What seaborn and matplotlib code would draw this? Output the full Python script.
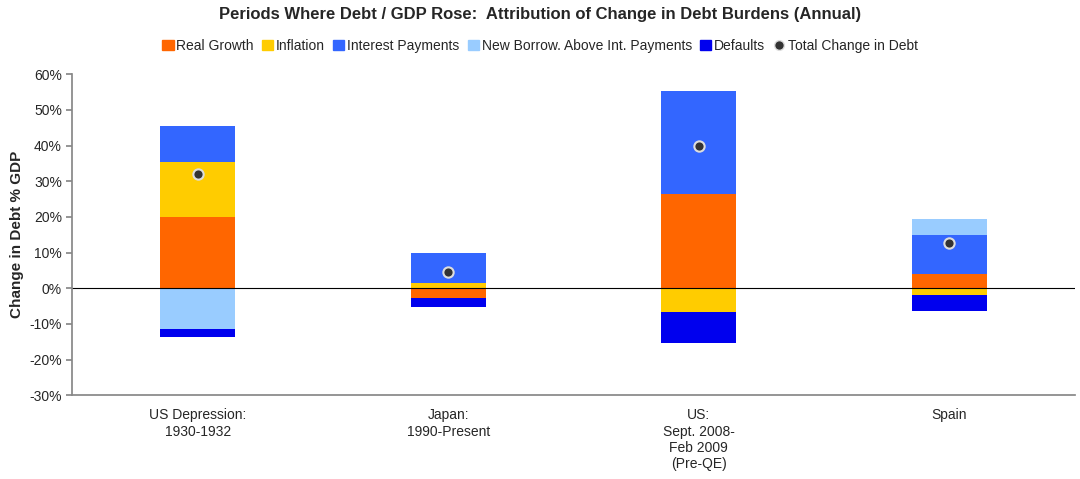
import numpy as np
import matplotlib
matplotlib.use("Agg")
import matplotlib.pyplot as plt
import seaborn as sns
from matplotlib.lines import Line2D
from matplotlib.patches import Patch

sns.set_theme(style="white")
plt.rcParams['font.family'] = ['Liberation Sans', 'DejaVu Sans']

categories = ["US Depression:\n1930-1932", "Japan:\n1990-Present",
              "US:\nSept. 2008-\nFeb 2009\n(Pre-QE)", "Spain"]
real_growth = [19.9, -2.8, 26.4, 3.9]
inflation = [15.4, 1.4, -6.7, -1.8]
interest = [10.3, 8.4, 28.8, 11.0]
new_borrow = [-11.5, 0.0, 0.0, 4.4]
defaults = [-2.2, -2.6, -8.7, -4.7]
total = [32.0, 4.5, 39.8, 12.7]

series = [("Real Growth", real_growth, "#FF6600"),
          ("Inflation", inflation, "#FFCC00"),
          ("Interest Payments", interest, "#3366FF"),
          ("New Borrow. Above Int. Payments", new_borrow, "#99CCFF"),
          ("Defaults", defaults, "#0000EE")]

fig, ax = plt.subplots(figsize=(10.8, 4.79), dpi=100)
fig.subplots_adjust(left=0.067, right=0.995, top=0.845, bottom=0.175)
x = np.arange(len(categories))
pos = np.zeros(len(categories))
neg = np.zeros(len(categories))
for name, vals, col in series:
    v = np.array(vals)
    bottom = np.where(v >= 0, pos, neg)
    ax.bar(x, v, bottom=bottom, width=0.3, color=col, linewidth=0)
    pos += np.where(v >= 0, v, 0)
    neg += np.where(v < 0, v, 0)
sns.scatterplot(x=x, y=total, ax=ax, color="#333333", edgecolor="#DDDDDD",
                linewidth=1.5, s=55, zorder=5)

ax.axhline(0, color="black", lw=0.8)
ax.set_ylim(-30, 60)
ax.set_xlim(-0.5, 3.5)
ax.set_yticks(range(-30, 61, 10))
ax.set_yticklabels([f"{t}%" for t in range(-30, 61, 10)], fontsize=10)
ax.set_xticks(x)
ax.set_xticklabels(categories, fontsize=10)
ax.tick_params(axis='y', left=True, length=4, color="#888888")
ax.tick_params(axis='x', bottom=False)
for s in ["top", "right"]:
    ax.spines[s].set_visible(False)
for s in ["left", "bottom"]:
    ax.spines[s].set_color("#888888")
ax.set_ylabel("Change in Debt % GDP", fontsize=11, fontweight="bold")
ax.grid(False)

fig.suptitle("Periods Where Debt / GDP Rose:  Attribution of Change in Debt Burdens (Annual)",
             fontsize=12, fontweight="bold", x=0.5, y=0.985)
handles = [Patch(color=c, label=n) for n, _, c in series]
handles.append(Line2D([], [], marker="o", ls="", color="#333333", markeredgecolor="#DDDDDD",
                      markersize=7, label="Total Change in Debt"))
fig.legend(handles=handles, loc="upper center", bbox_to_anchor=(0.5, 0.945), ncol=6,
           frameon=False, fontsize=10, handlelength=0.8, handleheight=0.8,
           handletextpad=0.2, columnspacing=0.6)
fig.savefig("out.png", dpi=100)
